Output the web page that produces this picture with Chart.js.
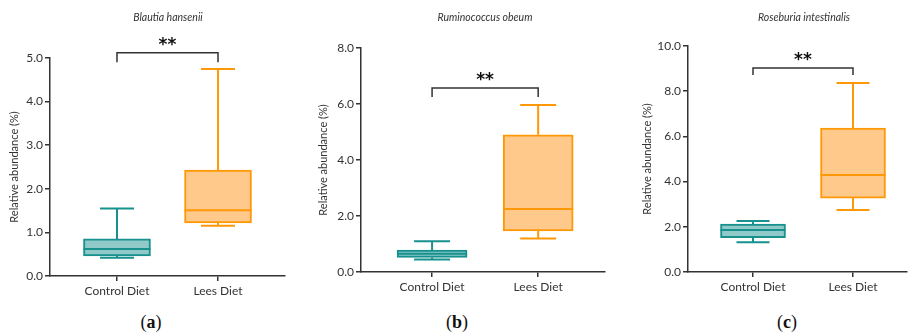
<!DOCTYPE html>
<html>
<head>
<meta charset="utf-8">
<script src="https://cdn.jsdelivr.net/npm/chart.js@4.4.0/dist/chart.umd.min.js"></script>
<style>
  body { margin: 0; background: #fff; width: 912px; height: 333px; position: relative; overflow: hidden; }
  .panel { position: absolute; top: 0; height: 300px; }
  .title { position: absolute; top: 11px; font: italic 10.5px Lato, sans-serif; color: #333; transform: translateX(-50%); white-space: nowrap; }
  .label { position: absolute; top: 312px; font: 18px "Liberation Serif", serif; color: #111; transform: translateX(-50%); line-height: 20px; }
</style>
</head>
<body>
<div class="panel" style="left:0;width:300px"><canvas id="chartA"></canvas></div>
<div class="panel" style="left:300px;width:310px"><canvas id="chartB"></canvas></div>
<div class="panel" style="left:610px;width:302px"><canvas id="chartC"></canvas></div>
<div class="title" style="left:168px">Blautia hansenii</div>
<div class="title" style="left:485px">Ruminococcus obeum</div>
<div class="title" style="left:804px">Roseburia intestinalis</div>
<div class="label" style="left:151px">(<b>a</b>)</div>
<div class="label" style="left:457px">(<b>b</b>)</div>
<div class="label" style="left:787px">(<b>c</b>)</div>
<script>
// groups on the x axis
const categories = ['Control Diet', 'Lees Diet'];

// box stats per group: [min, q1, median, q3, max]
const blautiaControl = [0.42, 0.46, 0.62, 0.85, 1.55];
const blautiaLees = [1.15, 1.22, 1.51, 2.43, 4.75];
const ruminococcusControl = [0.45, 0.52, 0.65, 0.78, 1.1];
const ruminococcusLees = [1.2, 1.47, 2.25, 4.9, 5.96];
const roseburiaControl = [1.32, 1.52, 1.86, 2.12, 2.26];
const roseburiaLees = [2.74, 3.27, 4.29, 6.37, 8.36];

// y tick values
const ticksA = [0, 1, 2, 3, 4, 5];
const ticksB = [0, 2, 4, 6, 8];
const ticksC = [0, 2, 4, 6, 8, 10];

const strokeColors = ['#16918e', '#ff9807'];
const fillColors = ['#8fcac8', '#ffc98b'];
const axisColor = '#333';

// whiskers, median and the significance bracket
const boxPlugin = {
  id: 'boxExtras',
  afterDatasetsDraw(chart) {
    const opts = chart.options.plugins.boxExtras;
    const ctx = chart.ctx;
    const y = chart.scales.y;
    const meta = chart.getDatasetMeta(0);
    ctx.save();
    ctx.lineWidth = 2;
    opts.stats.forEach((s, i) => {
      const bar = meta.data[i];
      const cx = bar.x, half = bar.width / 2;
      ctx.strokeStyle = strokeColors[i];
      ctx.beginPath();
      ctx.moveTo(cx, y.getPixelForValue(s[3]));
      ctx.lineTo(cx, y.getPixelForValue(s[4]));
      ctx.moveTo(cx, y.getPixelForValue(s[1]));
      ctx.lineTo(cx, y.getPixelForValue(s[0]));
      ctx.moveTo(cx - opts.cap / 2, y.getPixelForValue(s[4]));
      ctx.lineTo(cx + opts.cap / 2, y.getPixelForValue(s[4]));
      ctx.moveTo(cx - opts.cap / 2, y.getPixelForValue(s[0]));
      ctx.lineTo(cx + opts.cap / 2, y.getPixelForValue(s[0]));
      ctx.moveTo(cx - half, y.getPixelForValue(s[2]));
      ctx.lineTo(cx + half, y.getPixelForValue(s[2]));
      ctx.stroke();
    });
    // bracket
    const x0 = meta.data[0].x, x1 = meta.data[1].x;
    const by = y.getPixelForValue(opts.bracket[0]);
    const bd = y.getPixelForValue(opts.bracket[1]);
    ctx.strokeStyle = axisColor;
    ctx.lineWidth = 1.5;
    ctx.beginPath();
    ctx.moveTo(x0, bd);
    ctx.lineTo(x0, by);
    ctx.lineTo(x1, by);
    ctx.lineTo(x1, bd);
    ctx.stroke();
    ctx.fillStyle = '#111';
    ctx.font = 'bold 17px "DejaVu Sans", sans-serif';
    ctx.textAlign = 'center';
    ctx.textBaseline = 'middle';
    ctx.fillText('**', (x0 + x1) / 2, by - 7);
    ctx.restore();
  }
};

function makePanel(id, p) {
  const stats = [p.control, p.lees];
  new Chart(document.getElementById(id), {
    type: 'bar',
    data: {
      datasets: [{
        data: stats.map((s, i) => ({ x: i, y: [s[1], s[3]] })),
        backgroundColor: fillColors,
        borderColor: strokeColors,
        borderWidth: 2,
        borderSkipped: false,
        barThickness: p.bar
      }]
    },
    options: {
      responsive: true,
      maintainAspectRatio: false,
      animation: false,
      layout: { padding: { top: p.top, right: p.right, left: 0, bottom: 0 } },
      plugins: {
        legend: { display: false },
        tooltip: { enabled: false },
        boxExtras: { stats: stats, cap: p.cap, bracket: p.bracket }
      },
      scales: {
        x: {
          type: 'linear',
          offset: false,
          min: p.xmin,
          max: p.xmax,
          afterBuildTicks: s => { s.ticks = [{ value: 0 }, { value: 1 }]; },
          afterFit: s => { s.height = 300 - p.bottom; },
          ticks: {
            callback: v => categories[v],
            color: axisColor,
            font: { family: 'Lato', size: 12 },
            padding: 3,
            maxRotation: 0,
            autoSkip: false
          },
          grid: { offset: false, drawOnChartArea: false, drawTicks: true, tickLength: 5, color: axisColor, lineWidth: 1.5 },
          border: { display: true, color: axisColor, width: 1.5 }
        },
        y: {
          min: 0,
          max: p.ticks[p.ticks.length - 1],
          afterBuildTicks: s => { s.ticks = p.ticks.map(v => ({ value: v })); },
          afterFit: s => { s.width = p.axisW; },
          ticks: {
            callback: v => v.toFixed(1),
            color: axisColor,
            font: { family: 'Lato', size: 12 },
            padding: 2
          },
          title: {
            display: true,
            text: 'Relative abundance (%)',
            color: axisColor,
            font: { family: 'Lato', size: 11 },
            padding: { top: p.titlePad, bottom: 0 }
          },
          grid: { drawOnChartArea: false, drawTicks: true, tickLength: 5, color: axisColor, lineWidth: 1.5 },
          border: { display: true, color: axisColor, width: 1.5 }
        }
      }
    },
    plugins: [boxPlugin]
  });
}

makePanel('chartA', {
  control: blautiaControl, lees: blautiaLees, ticks: ticksA,
  top: 58, bottom: 276, right: 15, axisW: 50, titlePad: 7.4,
  xmin: -0.663, xmax: 1.663, bar: 67, cap: 34, bracket: [5.12, 4.9]
});
makePanel('chartB', {
  control: ruminococcusControl, lees: ruminococcusLees, ticks: ticksB,
  top: 48, bottom: 272, right: 5, axisW: 61, titlePad: 16.4,
  xmin: -0.67, xmax: 1.63, bar: 70, cap: 36, bracket: [6.57, 6.25]
});
makePanel('chartC', {
  control: roseburiaControl, lees: roseburiaLees, ticks: ticksC,
  top: 46, bottom: 272, right: 5, axisW: 78, titlePad: 30.4,
  xmin: -0.65, xmax: 1.54, bar: 65, cap: 33, bracket: [9.03, 8.72]
});
</script>
</body>
</html>
